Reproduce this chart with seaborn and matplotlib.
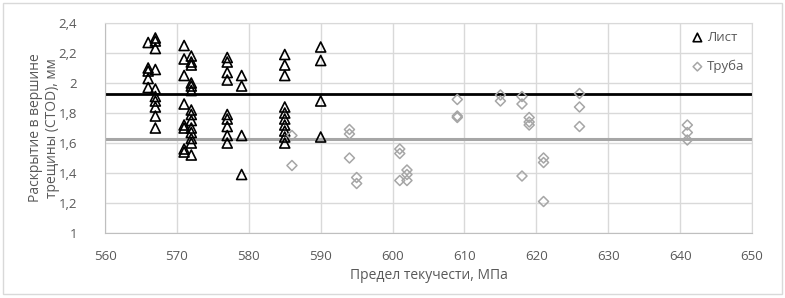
import pandas as pd
import matplotlib
matplotlib.use('Agg')
import matplotlib.pyplot as plt
import matplotlib.ticker as ticker
from matplotlib.patches import Rectangle
import seaborn as sns

# Лист (sheet) samples: yield strength, MPa / CTOD, mm
list_x = [566, 567, 567, 567, 566, 567, 566, 566, 566, 567,
          567, 567, 567, 567, 567,
          571, 571, 572, 572, 572, 571, 572, 572, 572, 571, 572, 572, 572,
          571, 571, 572, 572, 572, 572, 571, 571, 572,
          577, 577, 577, 577, 577, 577, 577, 577, 577,
          579, 579, 579, 579,
          585, 585, 585, 585, 585, 585, 585, 585, 585, 585,
          590, 590, 590, 590]
list_y = [2.27, 2.30, 2.28, 2.23, 2.10, 2.09, 2.08, 2.03, 1.97, 1.96,
          1.91, 1.88, 1.84, 1.78, 1.70,
          2.25, 2.16, 2.18, 2.14, 2.12, 2.05, 2.00, 1.98, 1.95, 1.86, 1.82, 1.79, 1.75,
          1.72, 1.70, 1.70, 1.67, 1.63, 1.60, 1.56, 1.54, 1.52,
          2.17, 2.14, 2.07, 2.02, 1.79, 1.76, 1.71, 1.65, 1.60,
          2.05, 1.98, 1.65, 1.39,
          2.19, 2.12, 2.05, 1.84, 1.80, 1.76, 1.72, 1.68, 1.64, 1.60,
          2.24, 2.15, 1.88, 1.64]

# Труба (pipe) samples
pipe_x = [586, 586, 594, 594, 594, 595, 595, 601, 601, 601, 602, 602, 602,
          609, 609, 609, 615, 615, 618, 618, 618, 619, 619, 619,
          621, 621, 621, 626, 626, 626, 641, 641, 641]
pipe_y = [1.65, 1.45, 1.69, 1.66, 1.50, 1.37, 1.33, 1.56, 1.53, 1.35, 1.42, 1.39, 1.35,
          1.89, 1.78, 1.77, 1.92, 1.88, 1.91, 1.86, 1.38, 1.77, 1.74, 1.72,
          1.50, 1.47, 1.21, 1.93, 1.84, 1.71, 1.72, 1.67, 1.62]

# average levels drawn as horizontal lines
list_mean = 1.93
pipe_mean = 1.63

df = pd.concat([
    pd.DataFrame({'sigma': list_x, 'ctod': list_y, 'group': 'Лист'}),
    pd.DataFrame({'sigma': pipe_x, 'ctod': pipe_y, 'group': 'Труба'}),
])

sns.set_style('white')
plt.rcParams['font.family'] = ['Open Sans', 'DejaVu Sans']

text_col = '#595959'
grid_col = '#d9d9d9'

fig, ax = plt.subplots(figsize=(7.85, 2.98), dpi=100)
fig.subplots_adjust(left=0.1338, right=0.958, top=0.9228, bottom=0.2181)
fig.patches.append(Rectangle((0.004, 0.012), 0.992, 0.978, transform=fig.transFigure,
                             fill=False, edgecolor=grid_col, linewidth=1.0))

ax.axhline(list_mean, color='black', linewidth=2.0, zorder=2)
ax.axhline(pipe_mean, color='#a6a6a6', linewidth=2.2, zorder=2)

sns.scatterplot(ax=ax, data=df[df['group'] == 'Лист'], x='sigma', y='ctod', marker='^',
                s=52, facecolor='none', edgecolor='black', linewidth=1.2,
                label='Лист', zorder=3)
sns.scatterplot(ax=ax, data=df[df['group'] == 'Труба'], x='sigma', y='ctod', marker='D',
                s=26, facecolor='none', edgecolor='#a6a6a6', linewidth=1.1,
                label='Труба', zorder=3)

ax.set_xlim(560, 650)
ax.set_ylim(1, 2.4)
ax.xaxis.set_major_locator(ticker.MultipleLocator(10))
ax.yaxis.set_major_locator(ticker.MultipleLocator(0.2))
ax.yaxis.set_major_formatter(ticker.FuncFormatter(lambda v, p: '{:g}'.format(round(v, 1)).replace('.', ',')))
ax.grid(True, color=grid_col, linewidth=1.0, zorder=0)
ax.set_axisbelow(True)
for side in ['top', 'right']:
    ax.spines[side].set_color(grid_col)
for side in ['left', 'bottom']:
    ax.spines[side].set_color('#bfbfbf')
ax.tick_params(axis='both', length=0, labelsize=9.5, labelcolor=text_col)
ax.tick_params(axis='y', pad=20)
ax.tick_params(axis='x', pad=12)

ax.set_xlabel('Предел текучести, МПа', fontsize=10, color=text_col, labelpad=4)
ax.set_ylabel('Раскрытие в вершине\nтрещины (CTOD), мм', fontsize=10, color=text_col, labelpad=-1)

leg = ax.legend(loc='upper right', frameon=False, fontsize=9.5, handletextpad=0.0,
                handlelength=1.4, labelspacing=1.2, borderaxespad=0.2, markerscale=0.85)
for t in leg.get_texts():
    t.set_color(text_col)

fig.savefig('out.png', dpi=100)
